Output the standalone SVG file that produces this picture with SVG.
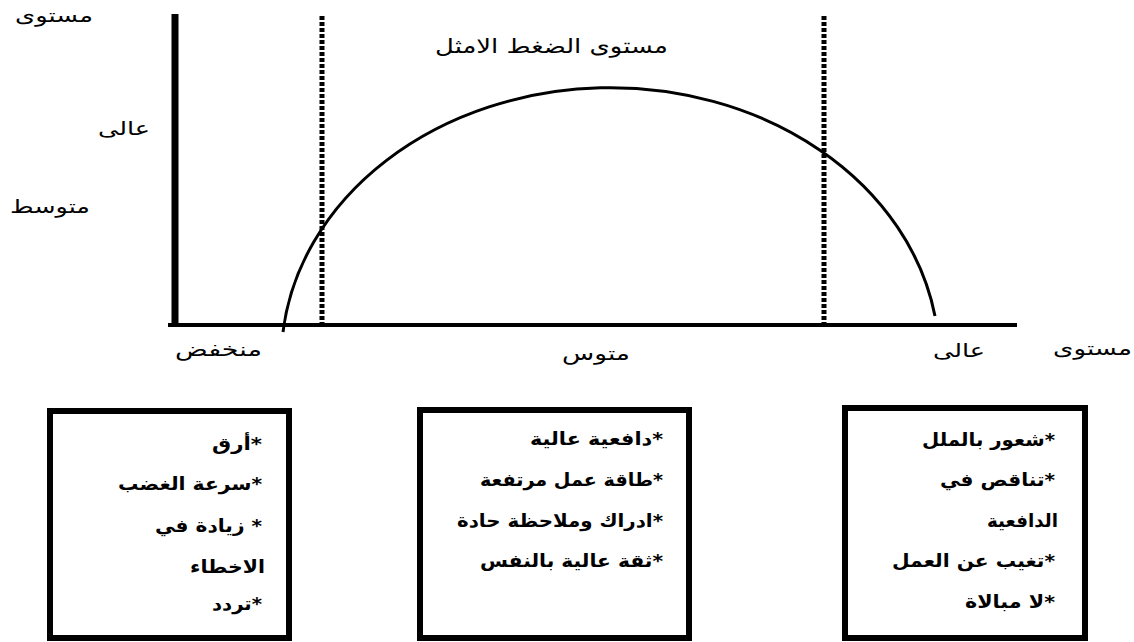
<svg xmlns="http://www.w3.org/2000/svg" width="1134" height="642" viewBox="0 0 1134 642">
<style>
text{font-family:"DejaVu Sans","Liberation Sans",sans-serif;fill:#000;direction:rtl;text-anchor:start}
.lbl{font-size:19px}
.title{font-size:20px}
.item{font-size:18px;font-weight:bold}
.box{fill:#fff;stroke:#000;stroke-width:6}
.axis{stroke:#000;fill:none}
.dot{stroke:#000;stroke-width:5;stroke-dasharray:4 2;fill:none}
</style>
<rect width="1134" height="642" fill="#fff"/>
<g id="connectors">
<line class="axis" x1="175" y1="14" x2="175" y2="327" stroke-width="7"/>
<line class="axis" x1="168" y1="325" x2="1017" y2="325" stroke-width="4"/>
<line class="dot" x1="322" y1="16" x2="322" y2="323"/>
<line class="dot" x1="824" y1="16" x2="824" y2="323"/>
<path class="axis" d="M283 332 A329 272 0 0 1 935 316" stroke-width="3"/>
</g>
<g id="labels">
<text class="lbl" x="93" y="22" direction="rtl" textLength="78" lengthAdjust="spacingAndGlyphs">مستوى</text>
<text class="lbl" x="150" y="135" direction="rtl" textLength="52" lengthAdjust="spacingAndGlyphs">عالى</text>
<text class="lbl" x="90" y="213" direction="rtl" textLength="80" lengthAdjust="spacingAndGlyphs">متوسط</text>
<text class="title" x="668" y="53" direction="rtl" textLength="233" lengthAdjust="spacingAndGlyphs">مستوى الضغط الامثل</text>
<text class="lbl" x="262" y="356" direction="rtl" textLength="87" lengthAdjust="spacingAndGlyphs">منخفض</text>
<text class="lbl" x="630" y="360" direction="rtl" textLength="68" lengthAdjust="spacingAndGlyphs">متوس</text>
<text class="lbl" x="985" y="357" direction="rtl" textLength="52" lengthAdjust="spacingAndGlyphs">عالى</text>
<text class="lbl" x="1132" y="355" direction="rtl" textLength="79" lengthAdjust="spacingAndGlyphs">مستوى</text>
</g>
<g id="box-low">
<rect class="box" x="50" y="411" width="239" height="227"/>
<text class="item" x="262" y="450" direction="rtl" textLength="50" lengthAdjust="spacingAndGlyphs">*أرق</text>
<text class="item" x="262" y="490" direction="rtl" textLength="144" lengthAdjust="spacingAndGlyphs">*سرعة الغضب</text>
<text class="item" x="262" y="532" direction="rtl" textLength="107" lengthAdjust="spacingAndGlyphs">* زيادة في</text>
<text class="item" x="265" y="573" direction="rtl" textLength="75" lengthAdjust="spacingAndGlyphs">الاخطاء</text>
<text class="item" x="262" y="610" direction="rtl" textLength="50" lengthAdjust="spacingAndGlyphs">*تردد</text>
</g>
<g id="box-mid">
<rect class="box" x="420" y="410" width="269" height="228"/>
<text class="item" x="663" y="445" direction="rtl" textLength="133" lengthAdjust="spacingAndGlyphs">*دافعية عالية</text>
<text class="item" x="663" y="486" direction="rtl" textLength="183" lengthAdjust="spacingAndGlyphs">*طاقة عمل مرتفعة</text>
<text class="item" x="663" y="527" direction="rtl" textLength="206" lengthAdjust="spacingAndGlyphs">*ادراك وملاحظة حادة</text>
<text class="item" x="663" y="567" direction="rtl" textLength="183" lengthAdjust="spacingAndGlyphs">*ثقة عالية بالنفس</text>
</g>
<g id="box-high">
<rect class="box" x="845" y="408" width="240" height="230"/>
<text class="item" x="1055" y="446" direction="rtl" textLength="133" lengthAdjust="spacingAndGlyphs">*شعور بالملل</text>
<text class="item" x="1055" y="486" direction="rtl" textLength="115" lengthAdjust="spacingAndGlyphs">*تناقص في</text>
<text class="item" x="1058" y="527" direction="rtl" textLength="71" lengthAdjust="spacingAndGlyphs">الدافعية</text>
<text class="item" x="1055" y="567" direction="rtl" textLength="163" lengthAdjust="spacingAndGlyphs">*تغيب عن العمل</text>
<text class="item" x="1055" y="608" direction="rtl" textLength="90" lengthAdjust="spacingAndGlyphs">*لا مبالاة</text>
</g>
</svg>
